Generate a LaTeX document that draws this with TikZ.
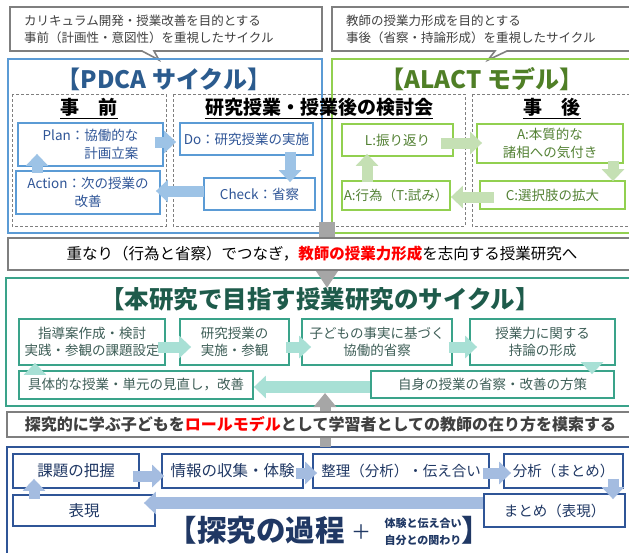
\documentclass[tikz,border=0pt]{standalone}
\usepackage{fontspec}
\setmainfont{Noto Sans CJK JP}
\usetikzlibrary{arrows.meta,calc}
\newcommand{\myfs}[2]{\fontsize{#1}{#2}\selectfont}
\definecolor{pdcab}{HTML}{5B9BD5}
\definecolor{pdcat}{HTML}{2F5597}
\definecolor{pdcatl}{HTML}{2B5B8E}
\definecolor{pdcaa}{HTML}{9DC3E6}
\definecolor{algb}{HTML}{92D050}
\definecolor{algt}{HTML}{548235}
\definecolor{algtl}{HTML}{4F7F26}
\definecolor{alga}{HTML}{C5E0B4}
\definecolor{tlb}{HTML}{3AA38A}
\definecolor{tlt}{HTML}{3E5E57}
\definecolor{tltitle}{HTML}{1E5B4B}
\definecolor{tla}{HTML}{A8E0D5}
\definecolor{bub}{HTML}{2F5597}
\definecolor{but}{HTML}{203864}
\definecolor{bua}{HTML}{A4BCE0}
\definecolor{gyb}{HTML}{7F7F7F}
\definecolor{gya}{HTML}{A6A6A6}
\definecolor{gyt}{HTML}{404040}
\tikzset{
  callout/.style={draw=gyb, line width=1.6pt, fill=white},
  ctext/.style={align=left, font=\myfs{12.5}{17}, text=gyt, inner sep=0pt},
  frm/.style={line width=2pt},
  dbox/.style={draw=gyb, line width=0.8pt, dash pattern=on 3pt off 2pt},
  headtxt/.style={font=\myfs{19}{20}\bfseries, inner sep=0pt, text height=16.5pt, text depth=2.5pt},
  uline/.style={line width=1.4pt},
  pnode/.style={draw=pdcab, line width=1.8pt, fill=white, text=pdcat, inner sep=1pt, font=\myfs{13.5}{18}, align=center},
  anode/.style={draw=algb, line width=1.8pt, fill=white, text=algt, inner sep=1pt, font=\myfs{13.5}{18}, align=center},
  tnode/.style={draw=tlb, line width=1.8pt, fill=white, text=tlt, inner sep=1pt, font=\myfs{13.5}{17}, align=center},
  bnode/.style={draw=bub, line width=1.8pt, fill=white, text=but, inner sep=1pt, font=\myfs{15.5}{18}, align=center},
  blk/.style={line width=11pt, -{Triangle[length=12pt,width=22pt]}},
  gbox/.style={draw=gyb, line width=1.8pt, fill=white},
}
\begin{document}
\begin{tikzpicture}[x=1pt,y=-1pt]
\useasboundingbox (0,0) rectangle (629,552);
\fill[white] (0,0) rectangle (629,552);

% ---------- callouts ----------
\draw[callout] (10,7) -- (322,7) -- (322,51) -- (154,51) -- (159,60) -- (142,51) -- (10,51) -- cycle;
\node[ctext, anchor=west] (c1) at (24,29.5) {カリキュラム開発・授業改善を目的とする\\事前（計画性・意図性）を重視したサイクル};
\draw[callout] (332,7) -- (634,7) -- (634,51) -- (507,51) -- (488,60) -- (495,51) -- (332,51) -- cycle;
\node[ctext, anchor=west] (c2) at (346,29.5) {教師の授業力形成を目的とする\\事後（省察・持論形成）を重視したサイクル};

% ---------- frames ----------
\draw[frm, draw=pdcab] (8,59) rectangle (322,233);
\draw[frm, draw=algb] (332,59) rectangle (634,233);
\draw[dbox] (12,94) rectangle (166,226);
\draw[dbox] (173,94) rectangle (465,226);
\draw[dbox] (472,94) rectangle (634,226);
\draw[frm, draw=tlb] (6,278) rectangle (634,406);
\draw[frm, draw=bub] (7,447) rectangle (634,570);

% ---------- gray connectors ----------
\coordinate (gtop) at (327,222);
\coordinate (gtip) at (327,288);
\draw[gya, line width=16pt, -{Triangle[length=18pt,width=22pt]}] (gtop) -- (gtip);
\coordinate (ubot) at (325,447);
\coordinate (utip) at (325,393);
\draw[gya, line width=11pt, -{Triangle[length=14pt,width=22pt]}] (ubot) -- (utip);

\node[gbox, minimum width=626pt, minimum height=32pt] (mid) at (321,254) {};
\node[font=\myfs{15.5}{18}, inner sep=0pt] (midtext) at ($(mid.center)+(1,0)$) {重なり（行為と省察）でつなぎ，{\color{red}\bfseries 教師の授業力形成}を志向する授業研究へ};
\node[gbox, minimum width=627pt, minimum height=25pt] (low) at (320.5,424.5) {};
\node[font=\myfs{16}{18}\bfseries, text=gyt, inner sep=0pt] (lowtext) at ($(low.center)+(0,0)$) {探究的に学ぶ子どもを{\color{red}ロールモデル}として学習者としての教師の在り方を模索する};

% ---------- titles ----------
\node[font=\myfs{24}{26}\bfseries, text=pdcatl] (ptitle) at (164,79) {【PDCA サイクル】};
\node[font=\myfs{24}{26}\bfseries, text=algtl] (atitle) at (482,79) {【ALACT モデル】};
\node[font=\myfs{24.5}{26}\bfseries, text=tltitle] (ttitle) at (320,299) {【本研究で目指す授業研究のサイクル】};

% ---------- headings ----------
\node[headtxt] (hpre) at (89,107) {事　前};
\node[headtxt] (hmid) at (319,107) {研究授業・授業後の検討会};
\node[headtxt] (hpost) at (552,107) {事　後};
\foreach \h in {hpre,hmid,hpost}
  \draw[uline] ($(\h.south west)+(0,1.5)$) -- ($(\h.south east)+(0,1.5)$);

% ---------- PDCA ----------
\node[pnode, minimum width=145pt, minimum height=43pt, align=right] (plan) at (90.5,144.5) {Plan：協働的な\\計画立案};
\node[pnode, minimum width=133pt, minimum height=32pt] (do) at (246.5,139) {Do：研究授業の実施};
\node[pnode, minimum width=111pt, minimum height=32pt] (check) at (259.5,194) {Check：省察};
\node[pnode, minimum width=144pt, minimum height=43pt] (action) at (88,192.5) {Action：次の授業の\\改善};
\draw[blk, pdcaa] ($(plan.east)+(-9,-2.5)$) -- ($(do.west)+(-3,3)$);
\draw[blk, pdcaa] ($(do.south)+(43.5,-4)$) -- ($(check.north)+(30.5,5)$);
\draw[blk, pdcaa] ($(check.west)+(1,-3)$) -- ($(action.east)+(-5,-1.5)$);
\draw[blk, pdcaa] ($(action.north)+(-51,3)$) -- ($(plan.south)+(-53.5,-13)$);

% ---------- ALACT ----------
\node[anode, minimum width=111pt, minimum height=32pt] (lref) at (397.5,140) {L:振り返り};
\node[anode, minimum width=146pt, minimum height=39pt, font=\myfs{13.5}{17.5}] (aess) at (550,143.5) {A:本質的な\\諸相への気付き};
\node[anode, minimum width=145pt, minimum height=28pt] (cexp) at (552.5,195) {C:選択肢の拡大};
\node[anode, minimum width=108pt, minimum height=29pt] (aact) at (396,195.5) {A:行為（T:試み）};
\draw[blk, alga] ($(lref.east)+(-13,3)$) -- ($(aess.west)+(6,-0.5)$);
\draw[blk, alga] ($(aess.south)+(63,-3)$) -- ($(cexp.north)+(60.5,1)$);
\draw[blk, alga] ($(cexp.west)+(15,2)$) -- ($(aact.east)+(0,1.5)$);
\draw[blk, alga] ($(aact.north)+(-29,2)$) -- ($(lref.south)+(-30.5,-3)$);

% ---------- research cycle ----------
\node[tnode, minimum width=146pt, minimum height=46pt] (t1) at (92,342) {指導案作成・検討\\実践・参観の課題設定};
\node[tnode, minimum width=109pt, minimum height=46pt] (t2) at (234.5,342) {研究授業の\\実施・参観};
\node[tnode, minimum width=150pt, minimum height=46pt] (t3) at (377,342) {子どもの事実に基づく\\協働的省察};
\node[tnode, minimum width=145pt, minimum height=46pt] (t4) at (542.5,342) {授業力に関する\\持論の形成};
\node[tnode, minimum width=234pt, minimum height=28pt] (t5) at (136,385) {具体的な授業・単元の見直し，改善};
\node[tnode, minimum width=243pt, minimum height=27pt] (t6) at (492.5,384.5) {自身の授業の省察・改善の方策};
\draw[blk, tla] ($(t1.east)+(-8,5)$) -- ($(t2.west)+(12,5)$);
\draw[blk, tla] ($(t2.east)+(-4,5)$) -- ($(t3.west)+(10,5)$);
\draw[blk, tla] ($(t3.east)+(-4,5)$) -- ($(t4.west)+(8,5)$);
\draw[blk, tla] ($(t4.south)+(49.5,-4)$) -- ($(t6.north)+(99.5,4)$);
\draw[blk, tla, line width=12pt] ($(t6.west)+(0,2.5)$) -- ($(t5.east)+(0,2)$);
\draw[blk, tla] ($(t5.north)+(-101,5)$) -- ($(t1.south)+(-57,-3)$);

% ---------- inquiry process ----------
\node[bnode, minimum width=126pt, minimum height=34pt] (b1) at (76,471) {課題の把握};
\node[bnode, minimum width=141pt, minimum height=34pt] (b2) at (232.5,471) {情報の収集・体験};
\node[bnode, minimum width=176pt, minimum height=34pt, font=\myfs{14.5}{18}] (b3) at (401,471) {整理（分析）・伝え合い};
\node[bnode, minimum width=119pt, minimum height=34pt, font=\myfs{14.5}{18}] (b4) at (563.5,471) {分析（まとめ）};
\node[bnode, minimum width=142pt, minimum height=31pt] (b5) at (84,510.5) {表現};
\node[bnode, minimum width=141pt, minimum height=33pt, font=\myfs{14.5}{18}] (b6) at (554.5,510.5) {まとめ（表現）};
\draw[blk, bua] ($(b1.east)+(-7,5)$) -- ($(b2.west)+(3,5)$);
\draw[blk, bua] ($(b2.east)+(-8,2)$) -- ($(b3.west)+(5,2)$);
\draw[blk, bua] ($(b3.east)+(-7,2)$) -- ($(b4.west)+(8,2)$);
\draw[blk, bua] ($(b4.south)+(49.5,-10)$) -- ($(b6.north)+(58.5,6)$);
\draw[blk, bua, line width=12pt] ($(b6.west)+(0,-7.5)$) -- ($(b5.east)+(-12,-7.5)$);
\draw[blk, bua] ($(b5.north)+(-50,5)$) -- ($(b1.south)+(-42,-10)$);

\node[font=\myfs{29.5}{30}\bfseries, text=but, anchor=east, inner sep=0pt] (btitle) at (345,530) {【探究の過程};
\node[font=\myfs{20}{20}, text=but, inner sep=0pt] (bplus) at (361,532) {＋};
\node[font=\myfs{11}{17}\bfseries, text=but, align=center, inner sep=0pt] (bsub) at (423,531.5) {体験と伝え合い\\自分との関わり};
\node[font=\myfs{29.5}{30}\bfseries, text=but, anchor=west, inner sep=0pt] (bend) at (461,530) {】};
\end{tikzpicture}
\end{document}
